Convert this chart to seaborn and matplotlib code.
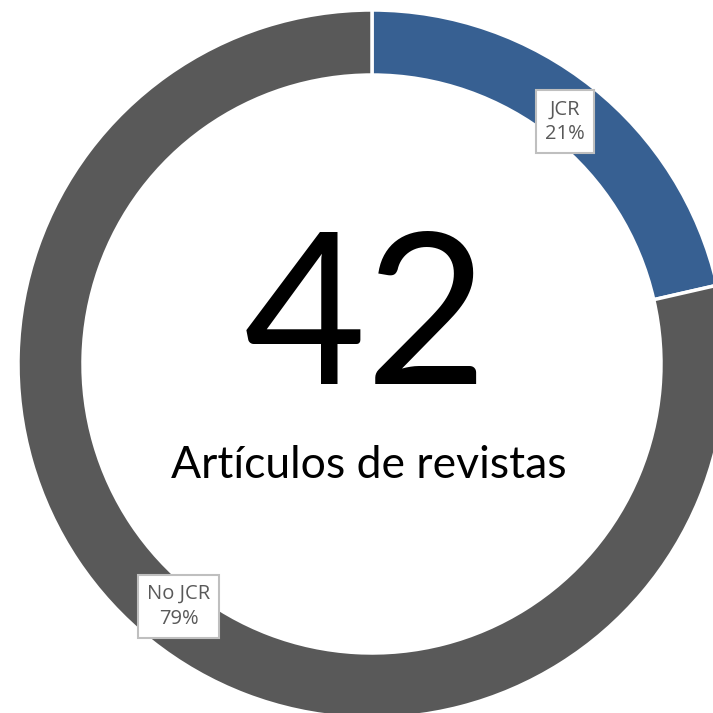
import matplotlib
matplotlib.use("Agg")
import matplotlib.pyplot as plt
import seaborn as sns

categories = ["JCR", "No JCR"]
counts = [9, 33]
colors = ["#376092", "#595959"]
total_label = "42"
subtitle = "Artículos de revistas"

sns.set_theme(style="white")
plt.rcParams['font.family'] = ['Lato', 'DejaVu Sans']

fig = plt.figure(figsize=(7.13, 7.13), dpi=100)
ax = fig.add_axes([0, 0, 1, 1])

cx, cy, R = 372, 713 - 364, 354

def fmt(p):
    idx = fmt.i
    fmt.i += 1
    return f"{categories[idx]}\n{round(p):d}%"
fmt.i = 0

wedges, texts, autotexts = ax.pie(
    counts, colors=colors, startangle=90, counterclock=False,
    center=(cx, cy), radius=R, autopct=fmt, pctdistance=0.876,
    wedgeprops=dict(width=65, edgecolor="white", linewidth=2.5),
    textprops=dict(color="#595959", fontsize=14.5, family=['Open Sans', 'DejaVu Sans'], linespacing=1.3),
    frame=True)
ax.set_xlim(0, 713)
ax.set_ylim(0, 713)
ax.set_aspect('equal')
ax.axis('off')
for t in autotexts:
    t.set_bbox(dict(boxstyle="square,pad=0.45", facecolor="white", edgecolor="#BFBFBF", linewidth=1.5))

ax.text(366, 713 - 324, total_label, ha='center', va='center', fontsize=152, color='black')
ax.text(369, 713 - 465, subtitle, ha='center', va='center', fontsize=32, color='black')

fig.savefig("out.png", dpi=100)
